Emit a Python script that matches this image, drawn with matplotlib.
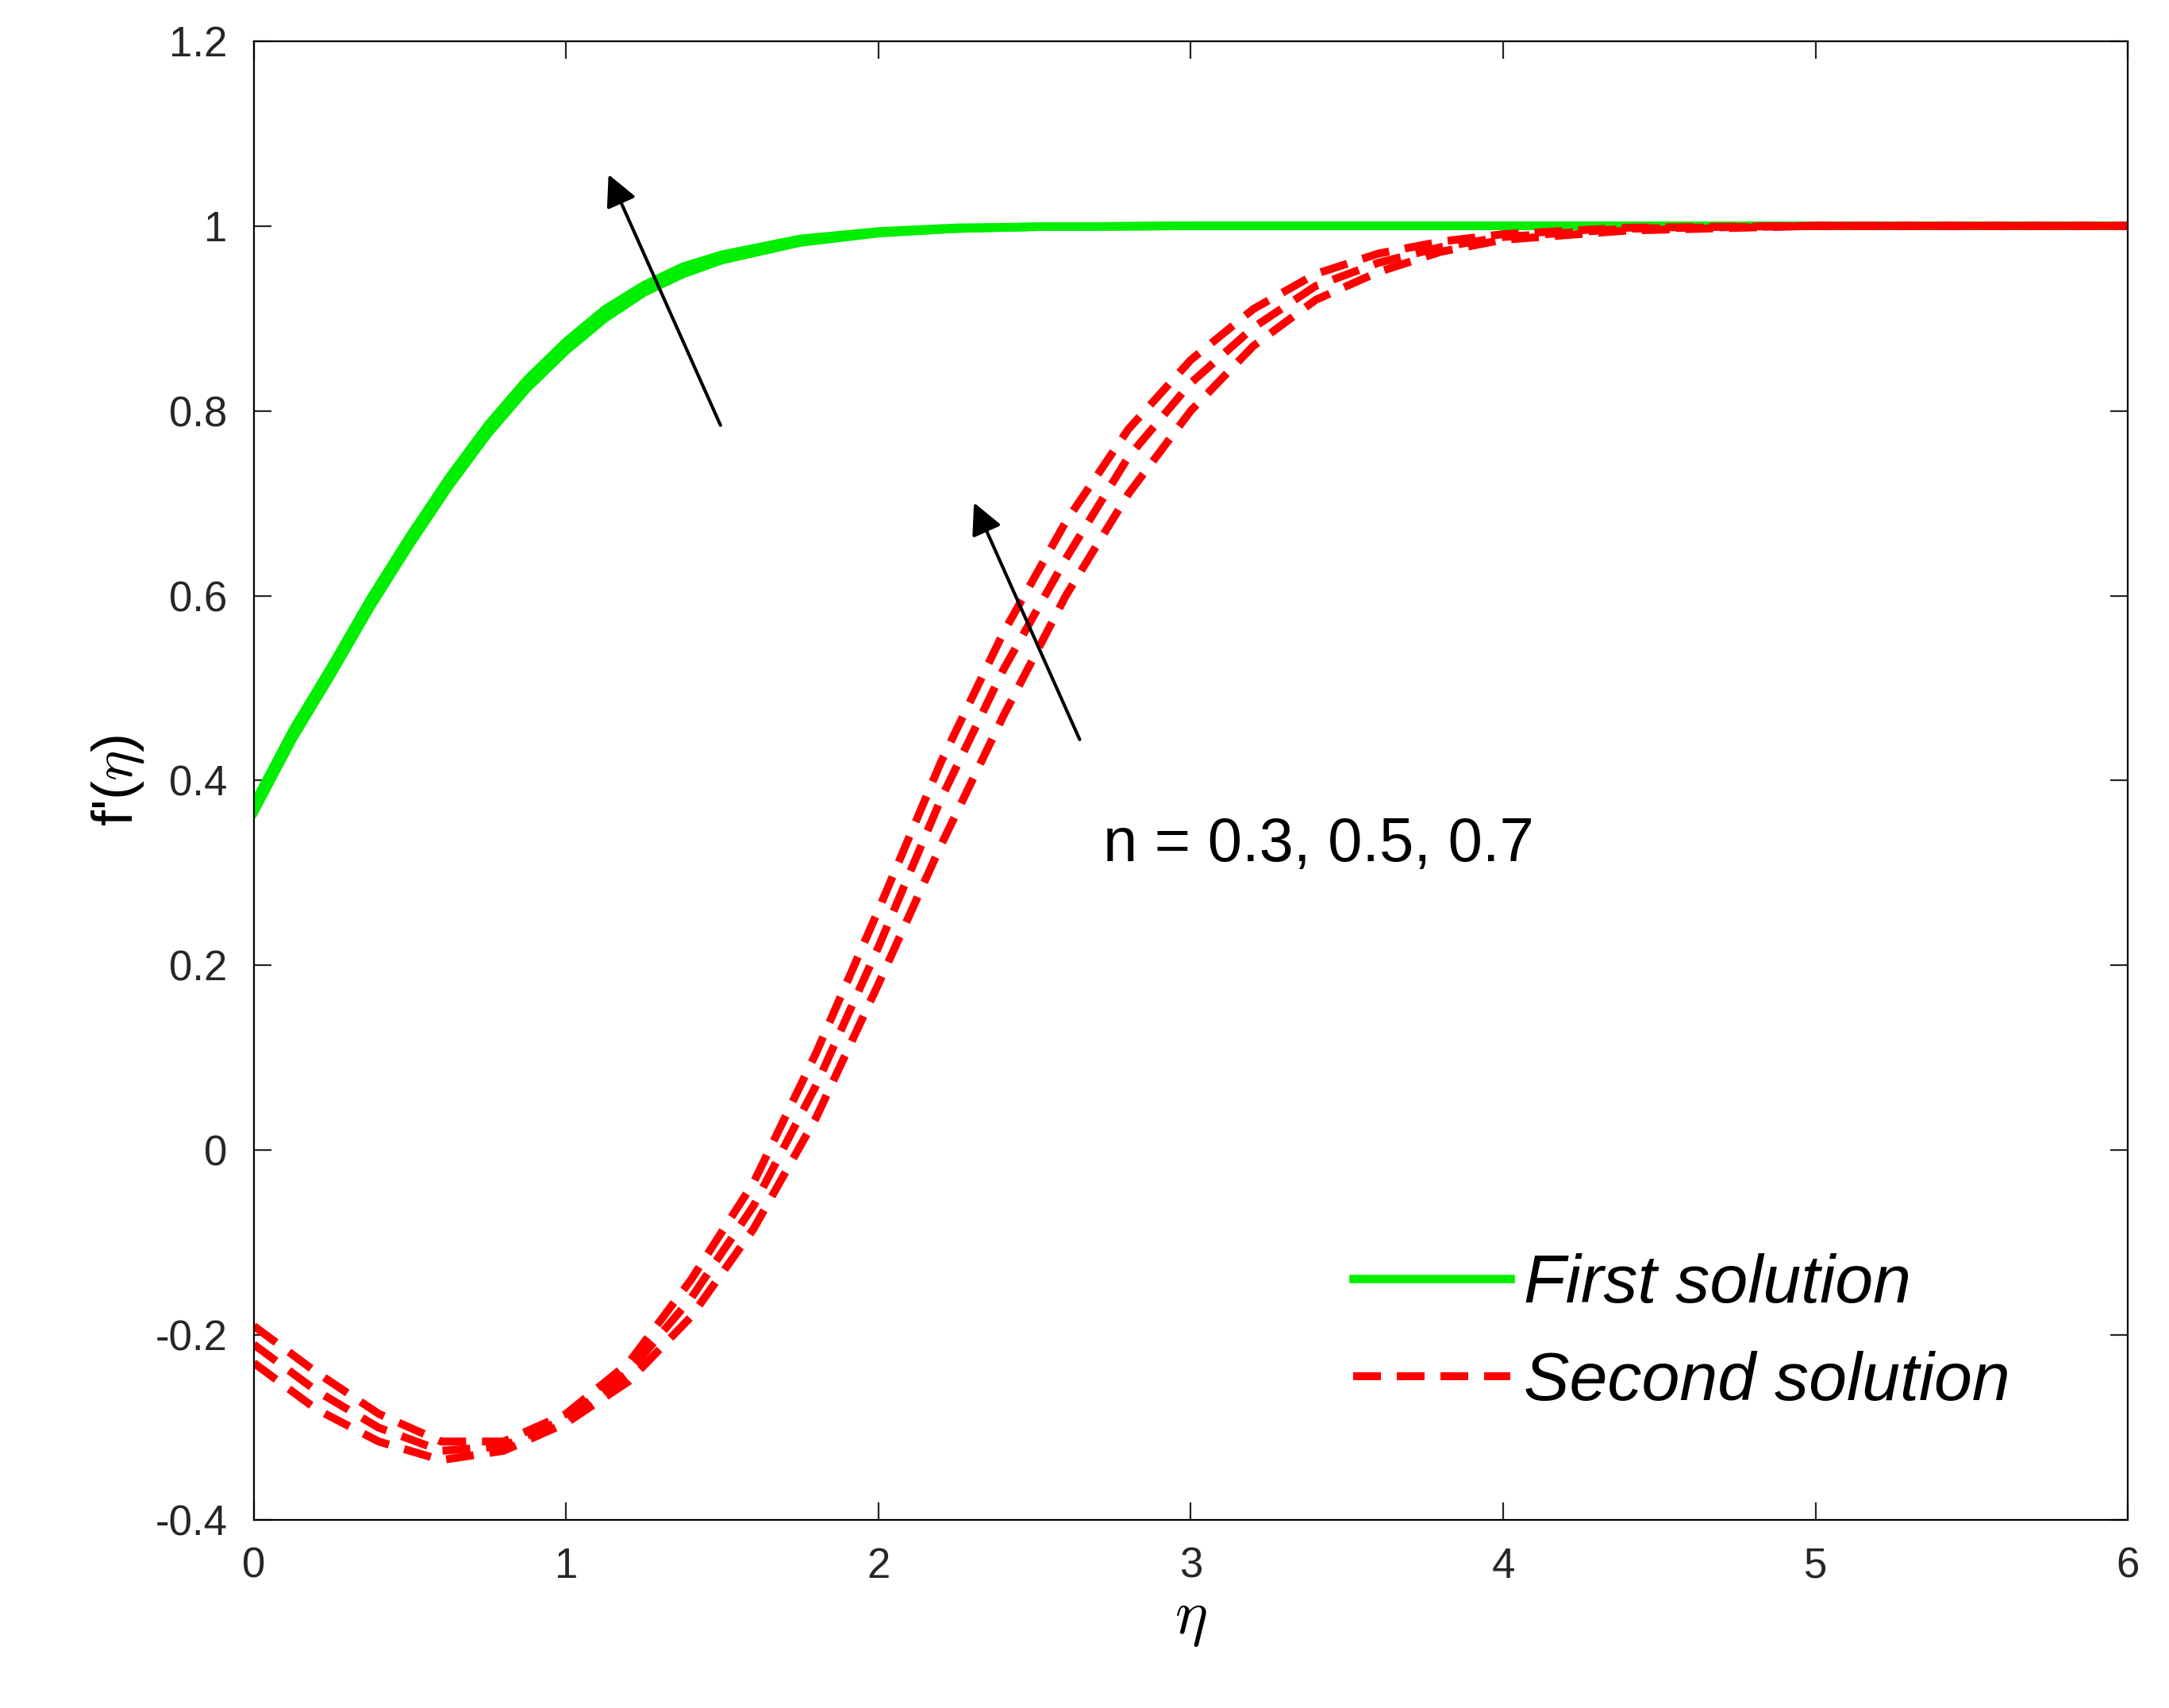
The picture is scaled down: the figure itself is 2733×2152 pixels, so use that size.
import matplotlib
matplotlib.use("Agg")
import matplotlib.pyplot as plt

plt.rcParams['font.family'] = ['Liberation Sans', 'DejaVu Sans']
plt.rcParams['mathtext.fontset'] = 'cm'

eta_first = [0, 0.125, 0.25, 0.375, 0.5, 0.625, 0.75, 0.875, 1.0, 1.125, 1.25, 1.375, 1.5, 1.75, 2.0, 2.25, 2.5, 3.0, 4.0, 5.0, 6.0]
first_n03 = [0.365, 0.445, 0.515, 0.588, 0.655, 0.718, 0.775, 0.824, 0.865, 0.9, 0.928, 0.948, 0.963, 0.982, 0.992, 0.997, 0.999, 1.0, 1.0, 1.0, 1.0]
first_n05 = [0.37, 0.45, 0.52, 0.593, 0.66, 0.723, 0.78, 0.829, 0.87, 0.905, 0.932, 0.952, 0.966, 0.984, 0.993, 0.997, 0.999, 1.0, 1.0, 1.0, 1.0]
first_n07 = [0.375, 0.455, 0.525, 0.598, 0.665, 0.728, 0.785, 0.834, 0.875, 0.91, 0.936, 0.956, 0.969, 0.986, 0.994, 0.998, 0.999, 1.0, 1.0, 1.0, 1.0]

eta_second = [0, 0.2, 0.4, 0.6, 0.8, 1.0, 1.2, 1.4, 1.6, 1.8, 2.0, 2.2, 2.4, 2.6, 2.8, 3.0, 3.2, 3.4, 3.6, 3.8, 4.0, 4.4, 5.0, 6.0]
second_n03 = [-0.23, -0.28, -0.315, -0.335, -0.325, -0.295, -0.25, -0.18, -0.085, 0.035, 0.18, 0.33, 0.47, 0.6, 0.71, 0.8, 0.87, 0.92, 0.95, 0.972, 0.985, 0.995, 1.0, 1.0]
second_n05 = [-0.21, -0.26, -0.30, -0.325, -0.32, -0.29, -0.24, -0.16, -0.06, 0.07, 0.22, 0.38, 0.52, 0.64, 0.75, 0.83, 0.89, 0.935, 0.96, 0.977, 0.988, 0.997, 1.0, 1.0]
second_n07 = [-0.19, -0.24, -0.285, -0.315, -0.315, -0.285, -0.23, -0.14, -0.035, 0.105, 0.26, 0.42, 0.56, 0.68, 0.78, 0.855, 0.91, 0.948, 0.97, 0.983, 0.991, 0.998, 1.0, 1.0]

fig = plt.figure(figsize=(13.665, 10.76), dpi=200)
ax = fig.add_axes([0.117, 0.110, 0.864, 0.866])

for i, y in enumerate([first_n03, first_n05, first_n07]):
    ax.plot(eta_first, y, color='#00ee00', lw=3.8, label='First solution' if i == 0 else None)
for i, y in enumerate([second_n03, second_n05, second_n07]):
    ax.plot(eta_second, y, color='#ff0000', lw=3.6, ls=(0, (3.5, 2.0)), label='Second solution' if i == 0 else None)

ax.set_xlim(0, 6)
ax.set_ylim(-0.4, 1.2)
ax.set_xticks(range(7))
ax.set_yticks([-0.4, -0.2, 0, 0.2, 0.4, 0.6, 0.8, 1.0, 1.2])
ax.set_yticklabels(['-0.4', '-0.2', '0', '0.2', '0.4', '0.6', '0.8', '1', '1.2'])
ax.tick_params(labelsize=19, direction='in', top=True, right=True, length=8, pad=12, colors='#262626')
ax.set_xlabel(r'$\eta$', fontsize=28, labelpad=2)
ax.set_ylabel(r"f'($\eta$)", fontsize=26)

ax.annotate('', xy=(1.13, 1.06), xytext=(1.5, 0.78),
            arrowprops=dict(arrowstyle='-|>', color='black', lw=1.5, mutation_scale=30))
ax.annotate('', xy=(2.3, 0.705), xytext=(2.65, 0.44),
            arrowprops=dict(arrowstyle='-|>', color='black', lw=1.5, mutation_scale=30))
ax.text(2.72, 0.33, 'n = 0.3, 0.5, 0.7', fontsize=28, va='center')

leg = ax.legend(loc='lower right', bbox_to_anchor=(0.97, 0.03), frameon=False,
                prop={'size': 31, 'style': 'italic'}, handlelength=2.3, handletextpad=0.2)
fig.savefig('out.png', dpi=200)
